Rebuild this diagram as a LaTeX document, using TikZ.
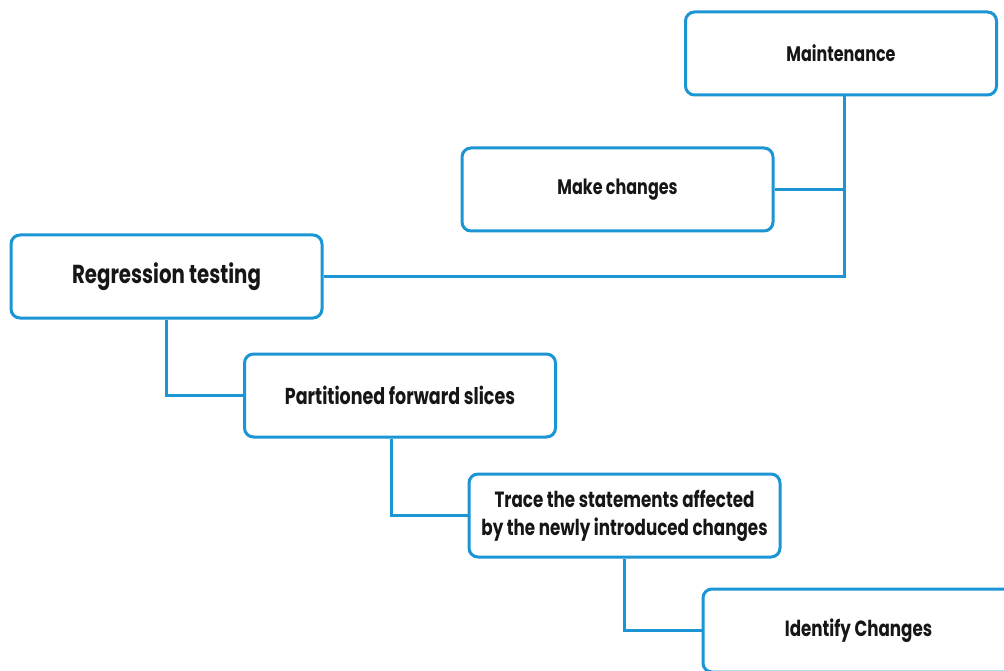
\documentclass[tikz,border=0pt]{standalone}
\usepackage{fontspec}
\newfontfamily\boxfont[FakeStretch=0.76]{Poppins Bold}
\definecolor{linkblue}{HTML}{1B95D3}
\definecolor{inkdark}{HTML}{161616}
\begin{document}
\begin{tikzpicture}[x=1pt,y=-1pt,
  stagebox/.style={draw=linkblue, line width=3pt, rounded corners=9pt, fill=white,
    minimum width=311pt, minimum height=83pt, align=center, text=inkdark,
    font=\boxfont\fontsize{22}{28}\selectfont},
  link/.style={draw=linkblue, line width=3pt}]
\useasboundingbox (0,0) rectangle (1004,671);
\fill[white] (0,0) rectangle (1004,671);
% stages of the maintenance flow
\node[stagebox, font=\boxfont\fontsize{21}{26}\selectfont] (maint) at (841,53.5) {Maintenance};
\node[stagebox, font=\boxfont\fontsize{21}{26}\selectfont] (make) at (617.5,189.5) {Make changes};
\node[stagebox, font=\boxfont\fontsize{26}{30}\selectfont] (regr) at (166.5,276.5) {Regression testing};
\node[stagebox, font=\boxfont\fontsize{23}{28}\selectfont] (part) at (400,395.5) {Partitioned forward slices};
\node[stagebox] (trace) at (624.5,515.5) {Trace the statements affected\\by the newly introduced changes};
\node[stagebox] (ident) at (858.5,630.5) {Identify Changes};
% elbow connectors
\coordinate (j1) at ([xshift=3pt]maint.south);
\draw[link] (j1) |- (regr.east);
\draw[link] (make.east) -- (make.east -| j1);
\draw[link] (regr.south) |- (part.west);
\draw[link] ([xshift=-9pt]part.south) |- (trace.west);
\draw[link] (trace.south) |- (ident.west);
\end{tikzpicture}
\end{document}
